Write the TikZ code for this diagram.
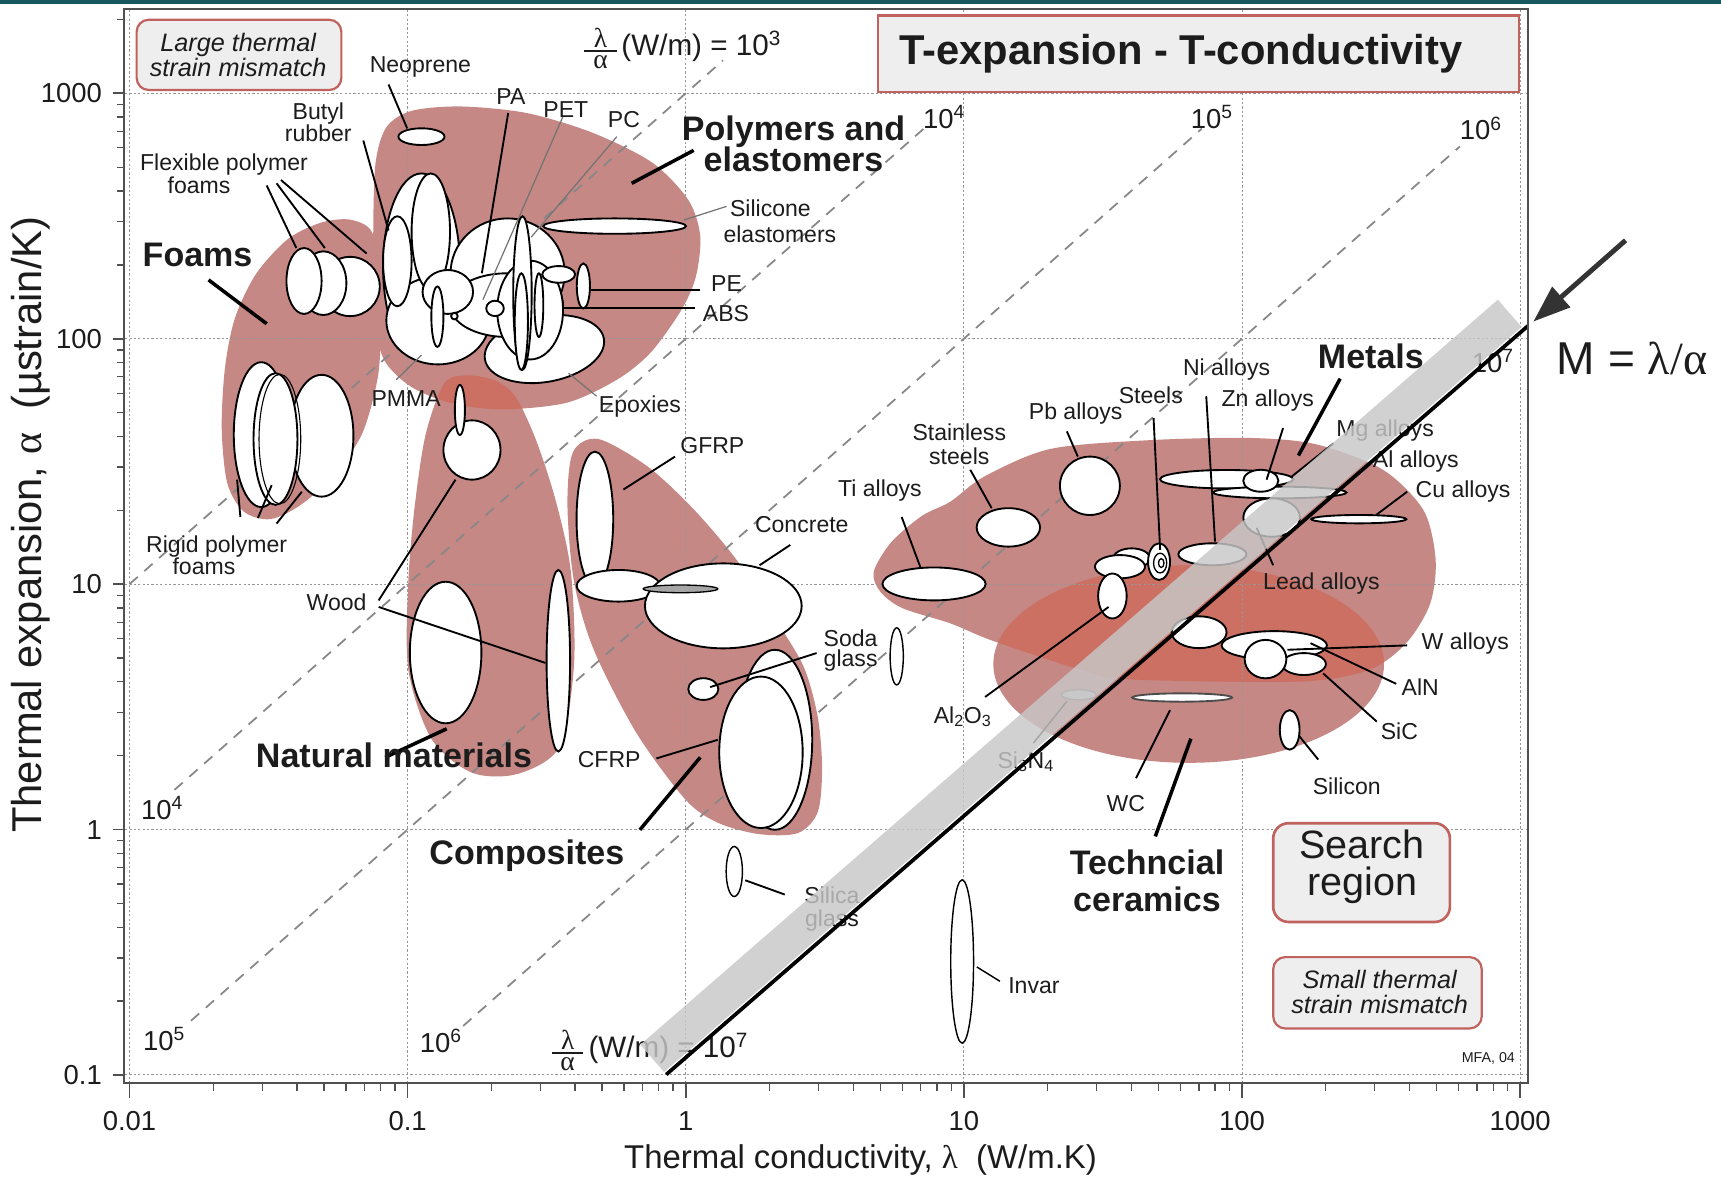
\documentclass[tikz,border=0pt]{standalone}
\usepackage{fontspec}
\setmainfont{Liberation Sans}
\newfontfamily\grk{Liberation Serif}
\usetikzlibrary{arrows.meta}
\definecolor{pinkc}{RGB}{197,136,132}
\definecolor{darkc}{RGB}{204,112,100}
\definecolor{bandc}{RGB}{200,200,200}
\definecolor{bxborder}{RGB}{192,98,94}
\definecolor{bxfill}{RGB}{238,238,238}
\definecolor{tealc}{RGB}{24,88,96}
\definecolor{txt}{RGB}{28,28,28}
\definecolor{gridc}{RGB}{150,150,150}
\definecolor{dashc}{RGB}{135,135,135}
\definecolor{framec}{RGB}{80,80,80}
\newcommand\fsz[2]{\fontsize{#1}{#2}\selectfont}
\newcommand\elp[5][]{\draw[elps,#1] (#2,#3) ellipse [x radius=#4, y radius=#5];}
\newcommand\lafr[1]{$\vcenter{\hbox to #1{\hfil\fsz{25}{25}\grk λ\hfil}\kern3pt\hrule height 1.8pt\kern3pt\hbox to #1{\hfil\fsz{25}{25}\grk α\hfil}}$}
\begin{document}
\begin{tikzpicture}[x=1pt,y=-1pt,
  lbl/.style={font=\fsz{21}{21}, text=txt, inner sep=0pt, align=center},
  blbl/.style={font=\fsz{31}{29}\bfseries, text=txt, inner sep=0pt, align=center},
  elps/.style={draw=black, line width=1.7pt, fill=white},
  ldr/.style={draw=black, line width=1.7pt},
  gldr/.style={draw=black!55, line width=1.1pt},
  tldr/.style={draw=black, line width=3.2pt},
  gridl/.style={draw=gridc, line width=0.9pt, dash pattern=on 2pt off 2pt},
  ratio/.style={draw=dashc, line width=1.6pt, dash pattern=on 10pt off 8pt},
  tickl/.style={font=\fsz{25}{25}, text=txt, inner sep=0pt},
  rlbl/.style={font=\fsz{25}{25}, text=txt, inner sep=0pt},
  ibox/.style={draw=bxborder, line width=2pt, fill=bxfill, rounded corners=11pt},
  tk/.style={draw=framec, line width=1.5pt}]
\fill[white] (0,0) rectangle (1568,1080);
\useasboundingbox (0,0) rectangle (1568,1080);
\fill[tealc] (0,0) rectangle (1568,4);

% ---------- envelopes ----------
\fill[pinkc] plot[smooth cycle] coordinates {(318,200) (338,210) (346,245) (347,300) (344,345) (330,395) (305,432) (274,460) (246,473) (222,466) (207,440) (202,390) (205,335) (214,290) (233,250) (262,218) (292,203)};
\fill[pinkc] plot[smooth cycle] coordinates {(342,150) (352,116) (375,101) (420,97) (480,103) (540,121) (594,148) (627,182) (638,215) (634,252) (621,282) (593,321) (562,346) (516,367) (456,373) (410,367) (374,352) (350,328) (341,290) (340,220)};
\fill[pinkc] plot[smooth cycle] coordinates {(405,349) (426,342) (452,347) (470,362) (488,400) (506,455) (520,520) (523,605) (510,680) (472,705) (430,704) (393,673) (372,610) (372,530) (378,460) (388,395)};
\begin{scope}
\clip plot[smooth cycle] coordinates {(342,150) (352,116) (375,101) (420,97) (480,103) (540,121) (594,148) (627,182) (638,215) (634,252) (621,282) (593,321) (562,346) (516,367) (456,373) (410,367) (374,352) (350,328) (341,290) (340,220)};
\fill[darkc] plot[smooth cycle] coordinates {(405,349) (426,342) (452,347) (470,362) (488,400) (506,455) (520,520) (523,605) (510,680) (472,705) (430,704) (393,673) (372,610) (372,530) (378,460) (388,395)};
\end{scope}
\fill[pinkc] plot[smooth cycle] coordinates {(522,412) (545,400) (590,425) (632,464) (671,510) (705,562) (732,607) (745,653) (749,700) (745,740) (727,759) (692,760) (655,750) (625,729) (580,668) (541,592) (523,530) (517,460)};
\fill[pinkc] plot[smooth cycle] coordinates {(796,521) (812,494) (840,470) (866,457) (897,434) (957,409) (1048,401) (1139,399) (1200,405) (1260,428) (1297,465) (1308,510) (1303,550) (1282,585) (1248,610) (1184,621) (1030,619) (987,611) (905,584) (866,568) (822,554) (802,539)};
\fill[pinkc] (1083,605) ellipse [x radius=178, y radius=90];
\begin{scope}
\clip plot[smooth cycle] coordinates {(796,521) (812,494) (840,470) (866,457) (897,434) (957,409) (1048,401) (1139,399) (1200,405) (1260,428) (1297,465) (1308,510) (1303,550) (1282,585) (1248,610) (1184,621) (1030,619) (987,611) (905,584) (866,568) (822,554) (802,539)};
\fill[darkc] (1083,605) ellipse [x radius=178, y radius=90];
\end{scope}

% ---------- grid and guide lines ----------
\foreach \k in {0,...,5} \draw[gridl] ({118+253.4*\k},9) -- ({118+253.4*\k},986);
\foreach \k in {0,...,4} \draw[gridl] (114,{85+223.6*\k}) -- (1391,{85+223.6*\k});
\draw[ratio] (118,532.2) -- (658.8,55);
\draw[ratio] (159,719.6) -- (848,111.6);
\draw[ratio] (174,930) -- (1095,117.2);
\draw[ratio] (422,934.7) -- (1330,133.5);

% ---------- material bubbles ----------
% foams
\elp{319}{261}{27}{27}
\elp{294.6}{258}{21}{29}
\elp{277}{256}{16}{30}
\elp{293}{397}{29}{55.5}
\elp{238}{396}{25}{66}
\elp{251}{400}{20}{60}
\draw[line width=1pt] (255,400) ellipse [x radius=19, y radius=59];
% polymers
\elp{384}{243}{35}{85}
\elp{399}{292}{47}{40}
\elp{362}{238}{13}{41}
\elp{392.5}{211}{17.5}{53}
\elp[rotate around={10:(496,318)}]{496}{318}{55}{30}
\elp{462.5}{249}{52}{50}
\elp{461.5}{278}{51.5}{29}
\elp{483}{282.5}{30}{45}
\elp{408}{266}{23}{20}
\elp{398.5}{288.5}{5.5}{27.5}
\elp{414}{288}{3}{3}
\elp{451}{281}{8}{7}
\elp{476}{267}{8.4}{70}
\elp{475}{293}{6}{44}
\elp{491}{278}{4}{29}
\elp{509}{250}{15}{7.6}
\elp{531.5}{260.5}{6}{20.5}
\elp{560}{206}{65}{7}
\elp{384}{124.5}{21}{7.6}
% natural
\elp{430}{410}{26}{27}
\elp{419}{373.5}{4.6}{22.8}
\elp{406}{594.5}{32.6}{64.5}
\elp{508.7}{602}{10.7}{82.7}
% composites
\elp{542}{473}{16.7}{61.5}
\elp{563.4}{533.7}{38}{14.4}
\elp{659}{552}{71.4}{38.7}
\draw[line width=1.2pt, fill=gray!70] (620,536.5) ellipse [x radius=34, y radius=3.5];
\elp{640.8}{627.8}{13.7}{9.9}
\elp{706}{674}{34}{82}
\elp{693.3}{685.4}{38}{69}
% glasses, invar
\elp[line width=1.3pt]{817}{598}{6}{26}
\elp[line width=1.3pt]{669}{794}{7.4}{22.8}
\elp[line width=1.3pt]{876.6}{876}{10.4}{74.4}
% metals
\elp{851}{532}{47}{15}
\elp{918.7}{480.5}{28.9}{17.5}
\elp{993}{442.6}{27.3}{26.6}
\elp{1117.6}{436.6}{60.7}{8.4}
\elp{1166}{448.7}{60.7}{5.3}
\elp{1148.7}{438}{16}{10}
\elp{1158.6}{471.5}{25.8}{17.5}
\elp{1238}{473}{43.3}{3.8}
\elp{1104.6}{505}{31}{10}
\elp{1031}{508.7}{16.7}{9.1}
\elp{1020.4}{516.3}{22.8}{10.6}
\elp{1056}{511.7}{10}{16.7}
\draw[line width=1.2pt] (1057,513) ellipse [x radius=6, y radius=9];
\draw[line width=1.2pt] (1058,513) ellipse [x radius=2.5, y radius=4];
\elp{1013.5}{543}{13}{20.5}
% ceramics
\draw[line width=1.3pt, draw=black!60, fill=black!20] (983,633) ellipse [x radius=16, y radius=4.6];
\elp[draw=black!70]{1077}{635.5}{45.5}{3.8}
\elp{1161}{588}{48}{13}
\elp{1188}{605}{20}{10}
\elp{1153}{600.5}{19}{17.5}
\elp{1092.5}{576}{25}{14.5}
\elp{1175}{665}{9}{18}

% ---------- leader lines ----------
\draw[ldr] (354,77) -- (371,117);
\draw[ldr] (331,128) -- (354,210);
\draw[ldr] (243,169) -- (270,226);
\draw[ldr] (252,167) -- (296,226);
\draw[ldr] (256,164) -- (334,231);
\draw[ldr] (219,471) -- (216,437);
\draw[ldr] (235,472) -- (247.5,442);
\draw[ldr] (252,477) -- (275,448);
\draw[ldr] (463,103) -- (439,249);
\draw[ldr] (638,264) -- (538,264);
\draw[ldr] (633,281) -- (513,281);
\draw[ldr] (345,547) -- (415,437);
\draw[ldr] (345,553) -- (497,604);
\draw[ldr] (615,416) -- (568,446);
\draw[ldr] (720,496.5) -- (692,515);
\draw[ldr] (744,595) -- (647,626);
\draw[ldr] (598,691) -- (654,674);
\draw[ldr] (679,802) -- (715,815);
\draw[ldr, line width=1.3pt] (890,881) -- (911,894);
\draw[ldr] (821.5,471) -- (839,518);
\draw[ldr] (884,428) -- (903.5,463);
\draw[ldr] (972,393) -- (982,416);
\draw[ldr] (1051,381) -- (1057,501);
\draw[ldr] (1099,361) -- (1107,493.5);
\draw[ldr] (1169,390) -- (1154,437);
\draw[ldr] (1215,404) -- (1177,434);
\draw[ldr] (1282,448) -- (1254,469);
\draw[ldr] (1160,515) -- (1145,481);
\draw[ldr] (897.5,635) -- (1010,553);
\draw[ldr, line width=1.3pt] (941.5,677) -- (972,639);
\draw[ldr] (1066,647) -- (1035,709);
\draw[ldr] (1184,671) -- (1201,692);
\draw[ldr] (1173,592) -- (1282,588);
\draw[ldr] (1194,586) -- (1272,623);
\draw[ldr] (1205.5,613.5) -- (1254.4,657.5);
\draw[gldr] (513,106) -- (440,273);
\draw[gldr] (562,124.5) -- (484,216);
\draw[gldr] (662,188) -- (623,200.5);
\draw[gldr] (543.6,361) -- (518,340);
\draw[gldr] (361,346) -- (384,323.5);
\draw[tldr] (190,255) -- (243,295);
\draw[tldr] (632,137) -- (575.5,167);
\draw[tldr] (351,690) -- (407,664);
\draw[tldr] (583,756) -- (638,690);
\draw[tldr] (1221,345) -- (1183,415);
\draw[tldr] (1085,673) -- (1052.6,762);

% ---------- labels ----------
\node[lbl] (lNeo) at (383,61) {Neoprene};
\node[lbl, font=\fsz{21}{20}] (lButyl) at (290,111) {Butyl\\rubber};
\node[lbl, align=left, anchor=west] (lFlex) at (127.5,158.5) {Flexible polymer\\\hspace*{25pt}foams};
\node[blbl] (lFoams) at (180,232.5) {Foams};
\node[lbl] (lPA) at (465.5,88) {PA};
\node[lbl] (lPET) at (515.5,100) {PET};
\node[lbl] (lPC) at (568.5,108.5) {PC};
\node[blbl] (lPoly) at (723,131) {Polymers and\\elastomers};
\node[lbl, align=left, anchor=west, font=\fsz{21}{23}] (lSil) at (659,201.5) {\hspace*{6pt}Silicone\\elastomers};
\node[lbl] (lPE) at (662,258) {PE};
\node[lbl] (lABS) at (661.5,286) {ABS};
\node[lbl] (lPMMA) at (370,363) {PMMA};
\node[lbl] (lEpox) at (583,370.5) {Epoxies};
\node[lbl, align=left, anchor=west, font=\fsz{21}{19.5}] (lRigid) at (133,505.7) {Rigid polymer\\\hspace*{24pt}foams};
\node[lbl] (lWood) at (306.7,549) {Wood};
\node[blbl] (lNat) at (359,688.6) {Natural materials};
\node[lbl] (lGFRP) at (649,405.5) {GFRP};
\node[lbl] (lConc) at (730.5,477.6) {Concrete};
\node[lbl, font=\fsz{21}{18}] (lSoda) at (775,593) {Soda\\glass};
\node[lbl] (lCFRP) at (555,692) {CFRP};
\node[blbl] (lComp) at (480,780) {Composites};
\node[lbl] (lSilica) at (758,828.5) {Silica\\glass};
\node[lbl] (lInvar) at (942,898) {Invar};
\node[lbl] (lTi) at (801.7,447) {Ti alloys};
\node[lbl, font=\fsz{21}{22}] (lStain) at (874,405) {Stainless\\steels};
\node[lbl] (lPb) at (980,377) {Pb alloys};
\node[lbl] (lSteels) at (1048.5,360) {Steels};
\node[lbl] (lNi) at (1117.5,337) {Ni alloys};
\node[lbl] (lZn) at (1155,364.5) {Zn alloys};
\node[blbl] (lMetals) at (1249,325) {Metals};
\node[lbl] (lMg) at (1262,392.5) {Mg alloys};
\node[lbl] (lAl) at (1290,420.5) {Al alloys};
\node[lbl] (lCu) at (1333,448) {Cu alloys};
\node[lbl] (lLead) at (1204,532) {Lead alloys};
\node[lbl] (lAl2O3) at (877,653) {Al\textsubscript{2}O\textsubscript{3}};
\node[lbl] (lSi3N4) at (934.5,694) {Si\textsubscript{3}N\textsubscript{4}};
\node[lbl] (lWC) at (1025.7,732) {WC};
\node[blbl, font=\fsz{31}{33}\bfseries] (lTech) at (1045,802.5) {Techncial\\ceramics};
\node[lbl] (lSilicon) at (1227,716) {Silicon};
\node[lbl] (lW) at (1335,586) {W alloys};
\node[lbl] (lAlN) at (1294,626) {AlN};
\node[lbl] (lSiC) at (1275,666) {SiC};
\node[font=\fsz{13}{13}, text=txt, inner sep=0pt] (lMFA) at (1356,964) {MFA, 04};

% ratio labels
\node[font=\fsz{27}{27}, text=txt, inner sep=0pt, anchor=west] (r3) at (532,44) {\lafr{30pt}\hspace{4pt}(W/m) = 10\textsuperscript{3}};
\node[font=\fsz{27}{27}, text=txt, inner sep=0pt, anchor=west] (r7) at (503,957) {\lafr{28pt}\hspace{5pt}(W/m) = 10\textsuperscript{7}};
\node[rlbl] (r4t) at (860,107) {10\textsuperscript{4}};
\node[rlbl] (r5t) at (1104,107) {10\textsuperscript{5}};
\node[rlbl] (r6t) at (1349,117) {10\textsuperscript{6}};
\node[rlbl] (r7t) at (1360,329) {10\textsuperscript{7}};
\node[rlbl] (r4b) at (147.5,736) {10\textsuperscript{4}};
\node[rlbl] (r5b) at (149.5,947) {10\textsuperscript{5}};
\node[rlbl] (r6b) at (401.6,948) {10\textsuperscript{6}};

% ---------- selection band and line ----------
\fill[bandc, opacity=0.82] (605.0,976.7) -- (1386.3,297.9) -- (1364.7,273.0) -- (583.4,951.8) -- cycle;
\coordinate (mA) at (607,979);
\coordinate (mB) at (1392,297);
\draw[line width=3.4pt, black] (mA) -- (mB);
\coordinate (arS) at (1481,219);
\coordinate (arE) at (1397,293);
\draw[line width=4.5pt, draw=black!80, -{Triangle[length=34pt,width=24pt]}] (arS) -- (arE);
\node[font=\fsz{42}{42}, text=txt, inner sep=0pt] (mlab) at (1487,327) {M = {\grk λ/α}};

% ---------- frame and axes ----------
\draw[draw=framec, line width=2pt] (113,8.5) rectangle (1392,987);
\foreach \d in {0,...,4} \draw[tk] (103,{85+223.6*\d}) -- (113,{85+223.6*\d});
\foreach \d in {-1,0,1,2,3}{\foreach \m in {2,...,9}{\pgfmathsetmacro\yy{85+223.6*(3-\d-log10(\m))}\ifdim\yy pt>9pt\relax\draw[tk, line width=1.2pt] (107,\yy) -- (113,\yy);\fi}}
\foreach \d in {0,...,5} \draw[tk] ({118+253.4*\d},987) -- ({118+253.4*\d},1000);
\foreach \d in {0,...,4}{\foreach \m in {2,...,9}{\pgfmathsetmacro\xx{118+253.4*(\d+log10(\m))}\draw[tk, line width=1.2pt] (\xx,987) -- (\xx,994);}}
\node[tickl, anchor=east] (ty3) at (93,85) {1000};
\node[tickl, anchor=east] (ty2) at (93,308.6) {100};
\node[tickl, anchor=east] (ty1) at (93,532.2) {10};
\node[tickl, anchor=east] (ty0) at (93,755.8) {1};
\node[tickl, anchor=east] (tym) at (93,979.4) {0.1};
\node[tickl] (tx0) at (118,1021) {0.01};
\node[tickl] (tx1) at (371.4,1021) {0.1};
\node[tickl] (tx2) at (624.8,1021) {1};
\node[tickl] (tx3) at (878.2,1021) {10};
\node[tickl] (tx4) at (1131.6,1021) {100};
\node[tickl] (tx5) at (1385,1021) {1000};
\node[font=\fsz{30}{30}, text=txt, inner sep=0pt] (xtitle) at (784,1057) {Thermal conductivity, {\grk λ}\ \ (W/m.K)};
\node[font=\fsz{38}{38}, text=txt, inner sep=0pt, rotate=90] (ytitle) at (28,478) {Thermal expansion, {\grk α}\ \ (µstrain/K)};

% ---------- boxes ----------
\draw[draw=bxborder, line width=2.2pt, fill=bxfill] (800,14) rectangle (1384,84);
\node[font=\fsz{38}{38}\bfseries, text=txt, inner sep=0pt] (title) at (1076,49) {T-expansion - T-conductivity};
\draw[ibox] (124.5,18) rectangle (311,82);
\node[font=\fsz{23}{23}\itshape, text=txt, inner sep=0pt, align=center] (large) at (217,50) {Large thermal\\strain mismatch};
\draw[ibox] (1160,872) rectangle (1350,937);
\node[font=\fsz{23}{22.5}\itshape, text=txt, inner sep=0pt, align=center] (small) at (1257,904) {Small thermal\\strain mismatch};
\draw[ibox, rounded corners=14pt, line width=2.4pt] (1160,750) rectangle (1321,840);
\node[font=\fsz{36}{34}, text=txt, inner sep=0pt, align=center] (search) at (1241,790) {Search\\region};
\end{tikzpicture}
\end{document}
